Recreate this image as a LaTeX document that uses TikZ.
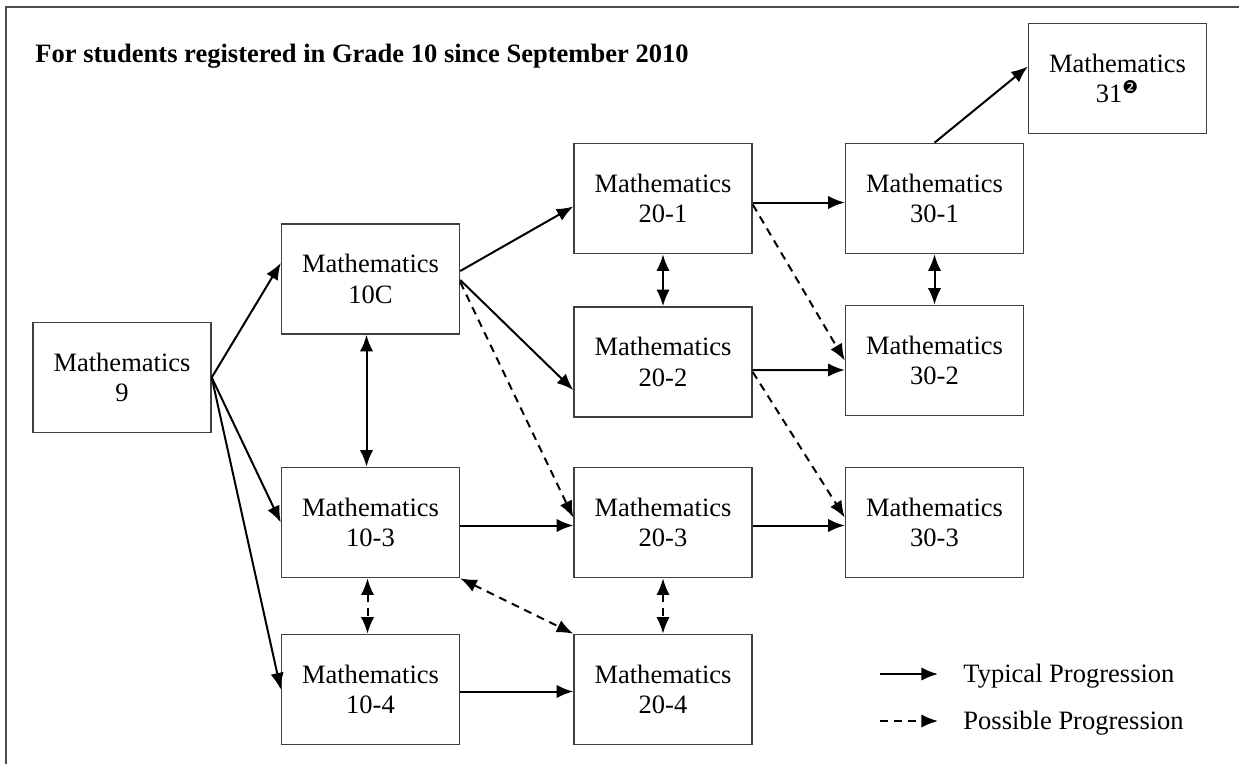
\documentclass[tikz,border=0pt]{standalone}
\usepackage{fontspec}
\setmainfont{Liberation Serif}
\newfontfamily\dingfont{DejaVu Sans}
\usetikzlibrary{calc,arrows.meta,positioning}
\tikzstyle{course}=[draw=black!75,line width=0.7pt,minimum width=80.5pt,minimum height=49.8pt,align=center,inner sep=0pt]
\tikzstyle{plain}=[inner sep=0pt,anchor=base west]
\tikzstyle{typical}=[line width=0.9pt,-{Latex[length=7.5pt,width=6pt]}]
\tikzstyle{possible}=[typical,dash pattern=on 3.6pt off 2.7pt]
\tikzstyle{twoway}=[line width=0.9pt,{Latex[length=7.5pt,width=6pt]}-{Latex[length=7.5pt,width=6pt]}]
\tikzstyle{twowaydash}=[twoway,dash pattern=on 3.6pt off 2.7pt]

\begin{document}
\begin{tikzpicture}[x=0.4525pt,y=-0.4525pt,font=\fontsize{12}{13.8}\selectfont]
		\useasboundingbox (0,0) rectangle (1239,764);
		\draw[black!70,line width=0.9pt] (6,764) -- (6,7) -- (1239,7);
		\node(title)[plain,font=\fontsize{12}{13.8}\selectfont\bfseries] at (35,62) {For students registered in Grade 10 since September 2010};

		% courses
		\node(m9)[course] at (122,377.5) {Mathematics\\9};
		\node(m10c)[course] at (370.5,279) {Mathematics\\10C};
		\node(m103)[course] at (370.5,522.5) {Mathematics\\10-3};
		\node(m104)[course] at (370.5,689.5) {Mathematics\\10-4};
		\node(m201)[course] at (663,198.5) {Mathematics\\20-1};
		\node(m202)[course] at (663,362) {Mathematics\\20-2};
		\node(m203)[course] at (663,522.5) {Mathematics\\20-3};
		\node(m204)[course] at (663,689.5) {Mathematics\\20-4};
		\node(m301)[course] at (934.5,198.5) {Mathematics\\30-1};
		\node(m302)[course] at (934.5,360.5) {Mathematics\\30-2};
		\node(m303)[course] at (934.5,522.5) {Mathematics\\30-3};
		\node(m31)[course] at (1117.5,78.5) {Mathematics\\31\textsuperscript{\dingfont\char"2777}};

		% progressions
		\draw[typical] (m9.east) -- ($(m10c.west)+(0,-16)$);
		\draw[typical] (m9.east) -- (m103.west);
		\draw[typical] (m9.east) -- (m104.west);
		\draw[typical] ($(m10c.east)+(0,-8)$) -- ($(m201.west)+(0,8)$);
		\draw[typical] ($(m10c.east)+(0,1)$) -- ($(m202.west)+(0,28)$);
		\draw[possible] ($(m10c.east)+(0,3)$) -- ($(m203.west)+(0,-5)$);
		\draw[twoway] ($(m10c.south)+(-4,0)$) -- ($(m103.north)+(-4,0)$);
		\draw[typical] ($(m103.east)+(0,3)$) -- ($(m203.west)+(0,3)$);
		\draw[twowaydash] ($(m103.south)+(-3,0)$) -- ($(m104.north)+(-3,0)$);
		\draw[twowaydash] (m103.south east) -- (m204.north west);
		\draw[typical] ($(m104.east)+(0,2)$) -- ($(m204.west)+(0,2)$);
		\draw[twoway] (m201.south) -- (m202.north);
		\draw[typical] ($(m201.east)+(0,4)$) -- ($(m301.west)+(0,4)$);
		\draw[possible] ($(m201.east)+(0,6)$) -- (m302.west);
		\draw[typical] ($(m202.east)+(0,8)$) -- ($(m302.west)+(0,9.5)$);
		\draw[possible] ($(m202.east)+(0,10)$) -- ($(m303.west)+(0,-5)$);
		\draw[typical] ($(m203.east)+(0,3)$) -- ($(m303.west)+(0,3)$);
		\draw[twowaydash] (m203.south) -- (m204.north);
		\draw[twoway] (m301.south) -- (m302.north);
		\draw[typical] (m301.north) -- ($(m31.west)+(0,-12)$);

		% legend
		\coordinate(t0) at (880,674);
		\coordinate(t1) at (938,674);
		\coordinate(p0) at (880,721);
		\coordinate(p1) at (938,721);
		\draw[typical] (t0) -- (t1);
		\draw[possible] (p0) -- (p1);
		\node(ttext)[plain] at (963,682) {Typical Progression};
		\node(ptext)[plain] at (963,729) {Possible Progression};

\end{tikzpicture}
\end{document}
